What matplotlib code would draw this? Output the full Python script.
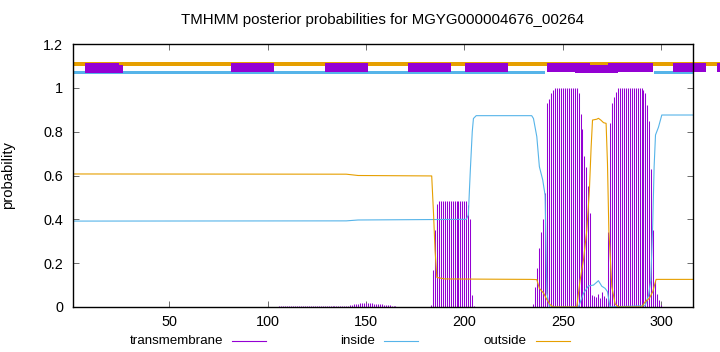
import matplotlib
matplotlib.use('Agg')
import matplotlib.pyplot as plt
from matplotlib.patches import Rectangle
from matplotlib.lines import Line2D

plt.rcParams['font.family'] = ['Liberation Sans', 'DejaVu Sans']

# ---------------- data ----------------
title = "TMHMM posterior probabilities for MGYG000004676_00264"
seq_len = 316
xticks = [50, 100, 150, 200, 250, 300]
yticks = [0, 0.2, 0.4, 0.6, 0.8, 1.0, 1.2]
ytick_labels = ["0", "0.2", "0.4", "0.6", "0.8", "1", "1.2"]
legend_labels = ["transmembrane", "inside", "outside"]

# per-residue transmembrane posterior (residues 1..316)
tm_prob = ([0.0] * 105 + [0.003] * 35 +
           [0.005, 0.008, 0.010, 0.012, 0.014, 0.015, 0.016, 0.016, 0.017, 0.017,
            0.017, 0.016, 0.016, 0.015, 0.015, 0.014, 0.013, 0.012, 0.011, 0.010,
            0.009, 0.008, 0.006, 0.005, 0.004] +
           [0.002] * 17 + [0.01] +
           [0.17, 0.35, 0.47] + [0.483] * 15 + [0.465, 0.40, 0.055] + [0.005] +
           [0.002] * 29 +
           [0.014, 0.09, 0.18, 0.27, 0.34, 0.40, 0.52, 0.93, 0.95, 0.975, 0.99] +
           [1.0] * 12 +
           [0.975, 0.88, 0.81, 0.69, 0.64, 0.55, 0.43, 0.055, 0.05, 0.045,
            0.06, 0.04, 0.07, 0.05, 0.04, 0.34, 0.84, 0.93, 0.96, 0.98] +
           [1.0] * 13 +
           [0.99, 0.975, 0.92, 0.85, 0.63, 0.35, 0.12, 0.06, 0.03, 0.01] +
           [0.0] * 16)
residues = list(range(1, seq_len + 1))

inside_x = [1, 140, 146, 201, 202, 203, 204, 204.6, 206, 234.2, 235.1, 236.8, 238.1,
            239.8, 241.0, 241.9, 243.2, 258.0, 260.5, 263.0, 265.6, 268.1, 269.8,
            271.5, 272.7, 274.0, 291.8, 293.5, 294.7, 295.7, 296.4, 297.1, 298.6,
            300.3, 316]
inside_y = [0.392, 0.393, 0.397, 0.40, 0.42, 0.62, 0.80, 0.86, 0.873, 0.873, 0.86, 0.777,
            0.64, 0.58, 0.51, 0.064, 0.0, 0.0, 0.062, 0.096, 0.10, 0.12, 0.095,
            0.085, 0.07, 0.0, 0.006, 0.05, 0.12, 0.38, 0.64, 0.785, 0.82, 0.876, 0.876]

outside_x = [1, 140, 146, 183.4, 184.3, 185.1, 186, 190, 233.4, 236.8, 238.1, 240.2,
             241.9, 243.6, 245.3, 257.1, 258.8, 260.5, 262.2, 263.5, 264.4, 265.1,
             267.3, 268.1, 269.3, 270.7, 272.0, 272.7, 273.4, 274.9, 276.6, 278.3,
             290.1, 291.8, 294.0, 295.7, 297.4, 316]
outside_y = [0.607, 0.606, 0.600, 0.598, 0.43, 0.26, 0.135, 0.128, 0.126, 0.125, 0.085,
             0.064, 0.034, 0.01, 0.0, 0.0, 0.123, 0.214, 0.35, 0.53, 0.73, 0.853,
             0.857, 0.861, 0.853, 0.841, 0.838, 0.655, 0.35, 0.093, 0.014, 0.0,
             0.0, 0.023, 0.04, 0.07, 0.126, 0.126]

# topology bar segments (residue coordinates)
outside_bar = [(1, 336)]
inside_bar = [(1, 241), (296.4, 316)]
helix_upper = [(7.2, 24.5), (81.3, 103.3), (129.2, 151.2), (171.2, 193.2),
               (200.3, 222.3), (242.2, 263.9), (273.0, 296.0), (306.2, 322.8),
               (328.2, 345)]
helix_lower = [(7.2, 26.4), (256.0, 278.0)]

# ---------------- style ----------------
C_TM = '#9400D3'
C_IN = '#56B4E9'
C_OUT = '#E69F00'

W, H = 720, 352
fig = plt.figure(figsize=(W / 100, H / 100), dpi=100)
L, R, T, B = 72.7, 692.7, 44, 307
ax = fig.add_axes([L / W, 1 - B / H, (R - L) / W, (B - T) / H])

ax.vlines(residues, 0, tm_prob, color=C_TM, lw=0.75)
ax.plot(inside_x, inside_y, color=C_IN, lw=0.8)
ax.plot(outside_x, outside_y, color=C_OUT, lw=0.8)

for a, b in outside_bar:
    ax.add_patch(Rectangle((a, 1.100), b - a, 0.017, color=C_OUT, lw=0, clip_on=False))
for a, b in inside_bar:
    ax.add_patch(Rectangle((a, 1.062), b - a, 0.014, color=C_IN, lw=0, clip_on=False))
for a, b in helix_upper:
    ax.add_patch(Rectangle((a, 1.070), b - a, 0.044, color=C_TM, lw=0, clip_on=False))
for a, b in helix_lower:
    ax.add_patch(Rectangle((a, 1.066), b - a, 0.036, color=C_TM, lw=0, clip_on=False))

ax.set_xlim(1, seq_len)
ax.set_ylim(0, 1.2)
ax.set_xticks(xticks)
ax.set_xticklabels([str(v) for v in xticks])
ax.set_yticks(yticks)
ax.set_yticklabels(ytick_labels)
ax.tick_params(direction='in', length=4, width=0.6, color='#555555', labelsize=10.4,
               top=True, right=True, pad=7)
ax.tick_params(axis='x', pad=6)
for s in ax.spines.values():
    s.set_linewidth(1.0)
    s.set_color('black')

ax.set_ylabel('probability', fontsize=10.6, labelpad=10)
ax.yaxis.set_label_coords(-(L - 15) / (R - L), 0.5)

fig.text((L + R) / 2 / W, 1 - 20 / H, title, ha='center', va='center', fontsize=10.8)

# legend (gnuplot style: text then sample line)
leg_text_right = [223, 375, 527]
ly = 1 - 340.7 / H
for lab, xr, c in zip(legend_labels, leg_text_right, [C_TM, C_IN, C_OUT]):
    fig.text(xr / W, ly, lab, ha='right', va='center', fontsize=9.6)
    fig.add_artist(Line2D([(xr + 9) / W, (xr + 43) / W], [ly, ly], color=c, lw=0.8,
                          transform=fig.transFigure))

fig.savefig('out.png', dpi=100)
